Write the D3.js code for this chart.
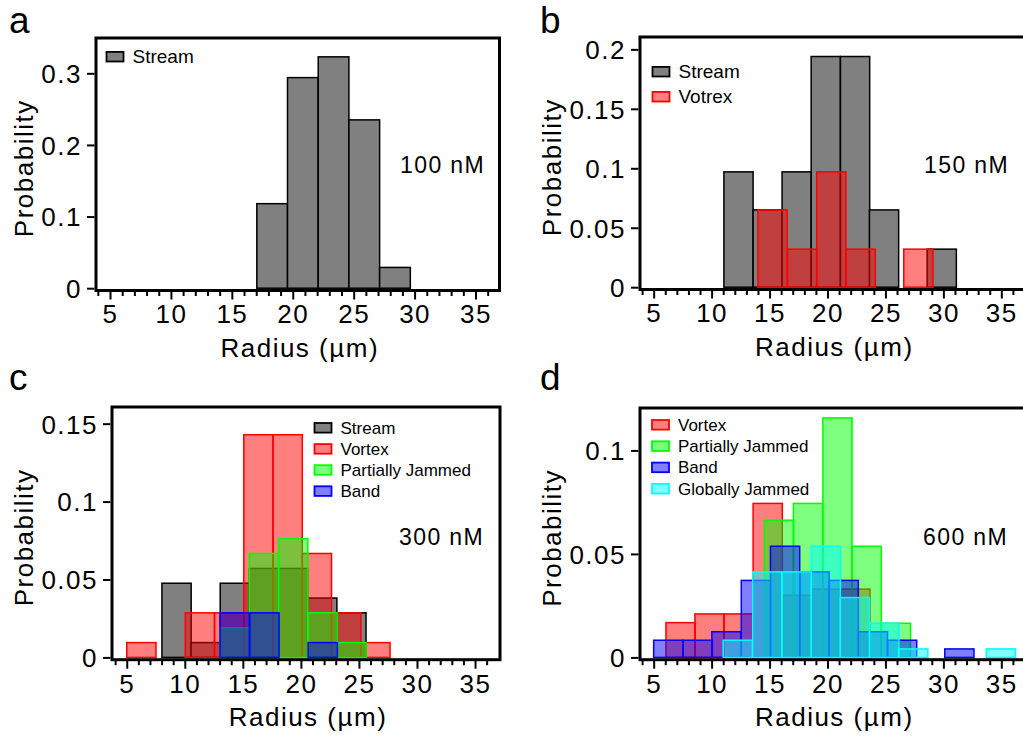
<!DOCTYPE html>
<html>
<head>
<meta charset="utf-8">
<script src="https://cdn.jsdelivr.net/npm/d3@7"></script>
<style>
  body { margin: 0; background: #fff; }
  svg { display: block; font-family: "Liberation Sans", Arial, Helvetica, sans-serif; }
</style>
</head>
<body>
<script>
// histogram bin width in µm (same for every series)
const binWidth = 2.52

// x ticks shared by all four panels
const xTicks = [5, 10, 15, 20, 25, 30, 35]
const xMinor = [4, 6, 7, 8, 9, 11, 12, 13, 14, 16, 17, 18, 19, 21, 22, 23, 24, 26, 27, 28, 29, 31, 32, 33, 34, 36]

// --- a : 100 nM
const aStreamBins = [17.05, 19.57, 22.09, 24.61, 27.13]
const aStreamProb = [0.118, 0.294, 0.323, 0.235, 0.029]
const aYTicks = [0, 0.1, 0.2, 0.3]
const aYLabels = ['0', '0.1', '0.2', '0.3']

// --- b : 150 nM
const bStreamBins = [11.06, 13.58, 16.08, 18.59, 21.12, 23.62, 26.12, 28.6]
const bStreamProb = [0.097, 0.065, 0.097, 0.194, 0.194, 0.065, 0, 0.032]
const bVortexBins = [14.0, 16.55, 19.07, 21.6, 24.1, 26.58]
const bVortexProb = [0.065, 0.032, 0.097, 0.032, 0, 0.032]
const bYTicks = [0, 0.05, 0.1, 0.15, 0.2]
const bYLabels = ['0', '0.05', '0.1', '0.15', '0.2']

// --- c : 300 nM
const cStreamBins = [8.03, 10.54, 13.05, 15.56, 18.07, 20.58, 23.09]
const cStreamProb = [0.0476, 0.0095, 0.0476, 0.0571, 0.0571, 0.0381, 0.0286]
const cVortexBins = [5.0, 7.52, 10.04, 12.56, 15.08, 17.6, 20.12, 22.64, 25.16]
const cVortexProb = [0.0095, 0, 0.0286, 0.0286, 0.1429, 0.1429, 0.0667, 0.0286, 0.0095]
const cPartialBins = [13.06, 15.56, 18.08, 20.6, 23.1]
const cPartialProb = [0.019, 0.0667, 0.0762, 0.0286, 0.0095]
const cBandBins = [13.04, 15.6, 18.12, 20.62]
const cBandProb = [0.0286, 0.0286, 0, 0.0095]
const cYTicks = [0, 0.05, 0.1, 0.15]
const cYLabels = ['0', '0.05', '0.1', '0.15']

// --- d : 600 nM
const dVortexBins = [6.06, 8.56, 11.06, 13.58, 16.11, 18.63, 21.15]
const dVortexProb = [0.0168, 0.021, 0.021, 0.0744, 0.03, 0.033, 0.033]
const dPartialBins = [14.55, 17.06, 19.6, 22.12, 24.64]
const dPartialProb = [0.0663, 0.0744, 0.1157, 0.0537, 0.0165]
const dBandBins = [5.0, 7.54, 10.02, 12.56, 15.08, 17.62, 20.14, 22.66, 25.18, 27.68, 30.12]
const dBandProb = [0.0083, 0.0083, 0.0124, 0.0372, 0.0537, 0.0413, 0.0372, 0.0124, 0.0083, 0, 0.0041]
const dGlobalBins = [11.0, 13.55, 16.08, 18.6, 21.1, 23.64, 26.14, 28.66, 31.18, 33.7]
const dGlobalProb = [0.0083, 0.0413, 0.0413, 0.0537, 0.0289, 0.0165, 0.0041, 0, 0, 0.0041]
const dYTicks = [0, 0.05, 0.1]
const dYLabels = ['0', '0.05', '0.1']

// state colours: stream is solid grey, the rest are half transparent
const styles = {
  stream: { fill: '#808080', op: 1, stroke: '#000' },
  vortex: { fill: '#ff0000', op: 0.5, stroke: '#ff0000' },
  partial: { fill: '#00ff00', op: 0.5, stroke: '#00ff00' },
  band: { fill: '#0000ff', op: 0.5, stroke: '#0000ff' },
  global: { fill: '#00ffff', op: 0.5, stroke: '#00ffff' }
}

// big text: axis ticks and titles
const axisFont = 26
const axisSpacing = 1.5

const panels = [
  {
    letter: 'a', letterPos: [9, 33], conc: '100 nM', concPos: [400, 173],
    box: { l: 96, t: 38, r: 499.5, b: 290.5 }, xDom: [3.85, 36.97], yMax: 0.3493,
    yTicks: aYTicks, yLabels: aYLabels, yTitleX: 33,
    legend: { x: 106.5, y: 56.7, dy: 25, size: 19 },
    series: [{ name: 'Stream', st: 'stream', bins: aStreamBins, prob: aStreamProb }]
  },
  {
    letter: 'b', letterPos: [540, 33], conc: '150 nM', concPos: [924, 173],
    box: { l: 640, t: 37, r: 1024.5, b: 289.5 }, xDom: [3.82, 37.0], yMax: 0.2104,
    yTicks: bYTicks, yLabels: bYLabels, yTitleX: 561,
    legend: { x: 652.5, y: 71.7, dy: 25, size: 19 },
    series: [
      { name: 'Stream', st: 'stream', bins: bStreamBins, prob: bStreamProb },
      { name: 'Votrex', st: 'vortex', bins: bVortexBins, prob: bVortexProb }
    ]
  },
  {
    letter: 'c', letterPos: [9, 390], conc: '300 nM', concPos: [399, 545],
    box: { l: 112, t: 407, r: 500, b: 659.7 }, xDom: [3.73, 37.15], yMax: 0.1607,
    yTicks: cYTicks, yLabels: cYLabels, yTitleX: 33,
    legend: { x: 314.5, y: 427.8, dy: 21.1, size: 17 },
    series: [
      { name: 'Stream', st: 'stream', bins: cStreamBins, prob: cStreamProb },
      { name: 'Vortex', st: 'vortex', bins: cVortexBins, prob: cVortexProb },
      { name: 'Partially Jammed', st: 'partial', bins: cPartialBins, prob: cPartialProb },
      { name: 'Band', st: 'band', bins: cBandBins, prob: cBandProb }
    ]
  },
  {
    letter: 'd', letterPos: [540, 390], conc: '600 nM', concPos: [923, 545],
    box: { l: 640, t: 408, r: 1024.5, b: 659.7 }, xDom: [3.82, 37.0], yMax: 0.1205,
    yTicks: dYTicks, yLabels: dYLabels, yTitleX: 561,
    legend: { x: 652, y: 424.8, dy: 21.3, size: 17 },
    series: [
      { name: 'Vortex', st: 'vortex', bins: dVortexBins, prob: dVortexProb },
      { name: 'Partially Jammed', st: 'partial', bins: dPartialBins, prob: dPartialProb },
      { name: 'Band', st: 'band', bins: dBandBins, prob: dBandProb },
      { name: 'Globally Jammed', st: 'global', bins: dGlobalBins, prob: dGlobalProb }
    ]
  }
]

const svg = d3.select('body').append('svg')
  .attr('width', 1023)
  .attr('height', 743)

panels.forEach(p => {
  const g = svg.append('g')
  const x = d3.scaleLinear().domain(p.xDom).range([p.box.l, p.box.r])
  // zero sits a little above the frame's bottom line
  const y = d3.scaleLinear().domain([0, p.yMax]).range([p.box.b - 2.3, p.box.t])

  // bars, one layer per state, in legend order
  p.series.forEach(s => {
    const st = styles[s.st]
    g.append('g').selectAll('rect')
      .data(s.bins.map((b, i) => ({ x0: b, v: s.prob[i] })))
      .join('rect')
      .attr('x', d => x(d.x0))
      .attr('width', d => x(d.x0 + binWidth) - x(d.x0))
      .attr('y', d => y(d.v))
      .attr('height', d => y(0) - y(d.v))
      .attr('fill', st.fill)
      .attr('fill-opacity', st.op)
      .attr('stroke', st.stroke)
      .attr('stroke-width', 1.5)
  })

  // frame
  g.append('rect')
    .attr('x', p.box.l).attr('y', p.box.t)
    .attr('width', p.box.r - p.box.l).attr('height', p.box.b - p.box.t)
    .attr('fill', 'none').attr('stroke', '#000').attr('stroke-width', 3)

  // x axis: major + minor ticks hanging under the frame
  const xa = g.append('g')
    .attr('transform', `translate(0,${p.box.b + 1})`)
    .call(d3.axisBottom(x).tickValues(xTicks).tickSize(8).tickPadding(5.5))
  const xm = g.append('g')
    .attr('transform', `translate(0,${p.box.b + 1})`)
    .call(d3.axisBottom(x).tickValues(xMinor).tickSize(4.5).tickFormat(''))

  // y axis
  const ya = g.append('g')
    .attr('transform', `translate(${p.box.l - 1.5},0)`)
    .call(d3.axisLeft(y).tickValues(p.yTicks).tickSize(7.5).tickPadding(5)
      .tickFormat((d, i) => p.yLabels[i]))

  ;[xa, xm, ya].forEach(a => {
    a.select('.domain').remove()
    a.selectAll('.tick line').attr('stroke', '#000').attr('stroke-width', 2)
    a.selectAll('text')
      .attr('font-family', null)
      .attr('font-size', axisFont)
      .attr('letter-spacing', axisSpacing)
      .attr('fill', '#000')
  })
  ya.selectAll('text').attr('dy', '0.36em')

  // axis titles
  g.append('text')
    .attr('x', (p.box.l + Math.min(p.box.r, 1024.5)) / 2 + 2)
    .attr('y', p.box.b + 66)
    .attr('text-anchor', 'middle')
    .attr('font-size', axisFont).attr('letter-spacing', axisSpacing)
    .text('Radius (µm)')
  g.append('text')
    .attr('transform', `translate(${p.yTitleX},${(p.box.t + p.box.b) / 2 + 4}) rotate(-90)`)
    .attr('text-anchor', 'middle')
    .attr('font-size', axisFont).attr('letter-spacing', axisSpacing)
    .text('Probability')

  // legend
  const lg = g.append('g')
  p.series.forEach((s, i) => {
    const st = styles[s.st]
    const ry = p.legend.y + i * p.legend.dy
    lg.append('rect')
      .attr('x', p.legend.x).attr('y', ry - 4.8)
      .attr('width', 17).attr('height', 9.6)
      .attr('fill', st.fill).attr('fill-opacity', st.op)
      .attr('stroke', st.stroke).attr('stroke-width', 1.8)
    lg.append('text')
      .attr('x', p.legend.x + 26).attr('y', ry + p.legend.size * 0.35)
      .attr('font-size', p.legend.size)
      .text(s.name)
  })

  // concentration note and panel letter
  g.append('text')
    .attr('x', p.concPos[0]).attr('y', p.concPos[1])
    .attr('font-size', 23).attr('letter-spacing', 1.4)
    .text(p.conc)
  g.append('text')
    .attr('x', p.letterPos[0]).attr('y', p.letterPos[1])
    .attr('font-size', 37)
    .text(p.letter)
})
</script>
</body>
</html>
